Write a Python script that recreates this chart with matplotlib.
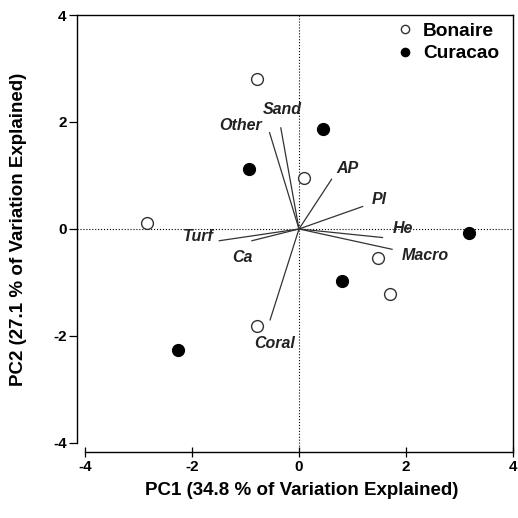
import matplotlib
matplotlib.use("Agg")
import matplotlib.pyplot as plt

plt.rcParams['font.family'] = ['Liberation Sans', 'DejaVu Sans']
plt.rcParams['font.weight'] = 'bold'

# site scores
bonaire_x = [-0.78, 0.10, -2.85, 1.48, 1.70, -0.79]
bonaire_y = [2.80, 0.95, 0.12, -0.54, -1.21, -1.81]
curacao_x = [0.45, -0.93, 3.18, 0.80, -2.26]
curacao_y = [1.86, 1.12, -0.08, -0.97, -2.26]

# variable loadings (vector tips) and label anchors
var_names = ['Other', 'Sand', 'AP', 'Pl', 'He', 'Macro', 'Coral', 'Turf', 'Ca']
var_x = [-0.55, -0.34, 0.61, 1.19, 1.56, 1.74, -0.54, -1.49, -0.88]
var_y = [1.80, 1.89, 0.93, 0.42, -0.16, -0.38, -1.70, -0.22, -0.22]
lab_x = [-1.10, -0.31, 0.91, 1.50, 1.95, 2.36, -0.46, -1.88, -1.06]
lab_y = [1.93, 2.24, 1.13, 0.56, 0.00, -0.50, -2.14, -0.14, -0.54]

ticks = [-4, -2, 0, 2, 4]

fig = plt.figure(figsize=(5.18, 5.18), dpi=100)
# left and bottom spines sit a little outside the -4 limits
ax = fig.add_axes([0.1486, 0.1274, 0.8417, 0.8436])

ax.axhline(0, color='black', linestyle=':', linewidth=0.8, zorder=1)
ax.axvline(0, color='black', linestyle=':', linewidth=0.8, zorder=1)

for name, vx, vy, tx, ty in zip(var_names, var_x, var_y, lab_x, lab_y):
    ax.plot([0, vx], [0, vy], color='#333333', linewidth=0.9, zorder=2)
    ax.text(tx, ty, name, style='italic', fontweight='bold', fontsize=11.5,
            ha='center', va='center', color='#222222', zorder=3)

ax.plot(bonaire_x, bonaire_y, 'o', markersize=8.5, markerfacecolor='white',
        markeredgecolor='#333333', markeredgewidth=1.0, linestyle='none',
        label='Bonaire', zorder=4)
ax.plot(curacao_x, curacao_y, 'o', markersize=8.5, markerfacecolor='black',
        markeredgecolor='black', linestyle='none', label='Curacao', zorder=4)

ax.set_xlim(-4.15, 4)
ax.set_ylim(-4.17, 4)
ax.spines['left'].set_bounds(-4, 4)
ax.spines['bottom'].set_bounds(-4, 4)
ax.set_xticks(ticks)
ax.set_yticks(ticks)
ax.set_xticklabels([str(t) for t in ticks], fontsize=11, fontweight='bold')
ax.set_yticklabels([str(t) for t in ticks], fontsize=11, fontweight='bold')
ax.tick_params(axis='x', direction='inout', length=7, width=0.9, pad=2)
ax.tick_params(axis='y', direction='out', length=6, width=0.9, pad=1.5)
for s in ax.spines.values():
    s.set_linewidth(1.0)

ax.set_xlabel('PC1 (34.8 % of Variation Explained)', fontsize=13.5,
              fontweight='bold', va='center')
ax.set_ylabel('PC2 (27.1 % of Variation Explained)', fontsize=13.5,
              fontweight='bold', va='center')
ax.xaxis.set_label_coords(0.516, -0.087)
ax.yaxis.set_label_coords(-0.135, 0.51)

leg = ax.legend(loc='upper right', bbox_to_anchor=(0.968, 0.983), frameon=False,
                fontsize=13.8, markerscale=0.7, handletextpad=0.45,
                handlelength=1.0, borderaxespad=0.0, borderpad=0.0,
                labelspacing=0.27)
for t in leg.get_texts():
    t.set_fontweight('bold')

fig.savefig('out.png', dpi=100)
